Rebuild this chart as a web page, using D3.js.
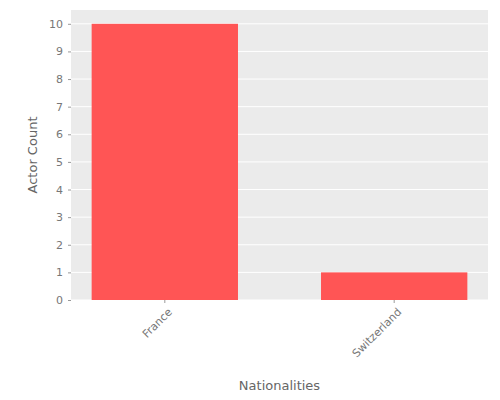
<!DOCTYPE html>
<html><head><meta charset="utf-8">
<script src="https://cdn.jsdelivr.net/npm/d3@7"></script>
<style>body{margin:0;background:#fff}text{font-family:"DejaVu Sans",sans-serif}</style>
</head><body><svg id="c" width="500" height="400"></svg>
<script>
const categories = ["France", "Switzerland"];
const values = [10, 1];
const yTicks = [0,1,2,3,4,5,6,7,8,9,10];

const svg = d3.select("#c");
const L=71, R=488, T=10, B=300;
const x = d3.scaleBand().domain(categories).range([L,R]).paddingInner(0.362).paddingOuter(0.09);
const y = d3.scaleLinear().domain([0,10.5]).range([B,T]);

svg.append("rect").attr("x",L).attr("y",T).attr("width",R-L).attr("height",B-T).attr("fill","#ebebeb");
svg.selectAll(".g").data(yTicks).enter().append("line")
  .attr("x1",L).attr("x2",R).attr("y1",d=>y(d)).attr("y2",d=>y(d)).attr("stroke","#fff").attr("stroke-width",1);

svg.selectAll(".bar").data(categories).enter().append("rect")
  .attr("x",d=>x(d)).attr("width",x.bandwidth())
  .attr("y",(d,i)=>y(values[i])).attr("height",(d,i)=>B-y(values[i]))
  .attr("fill","#ff5555");

const ya = svg.append("g").attr("transform",`translate(${L},0)`)
  .call(d3.axisLeft(y).tickValues(yTicks).tickSize(3).tickPadding(5));
ya.select(".domain").remove();
ya.selectAll("line").attr("stroke","#999");
ya.selectAll("text").attr("fill","#777").attr("font-size",11);

const xa = svg.append("g").attr("transform",`translate(0,${B})`)
  .call(d3.axisBottom(x).tickSize(3).tickPadding(5));
xa.select(".domain").remove();
xa.selectAll("line").attr("stroke","#999");
xa.selectAll("text").attr("fill","#777").attr("font-size",11)
  .attr("text-anchor","end").attr("dx","-0.3em").attr("dy","0.6em")
  .attr("transform","rotate(-45)");

svg.append("text").attr("x",(L+R)/2).attr("y",390).attr("text-anchor","middle")
  .attr("fill","#666").attr("font-size",13).text("Nationalities");
svg.append("text").attr("transform",`translate(37,${(T+B)/2}) rotate(-90)`).attr("text-anchor","middle")
  .attr("fill","#666").attr("font-size",13).text("Actor Count");
</script></body></html>
